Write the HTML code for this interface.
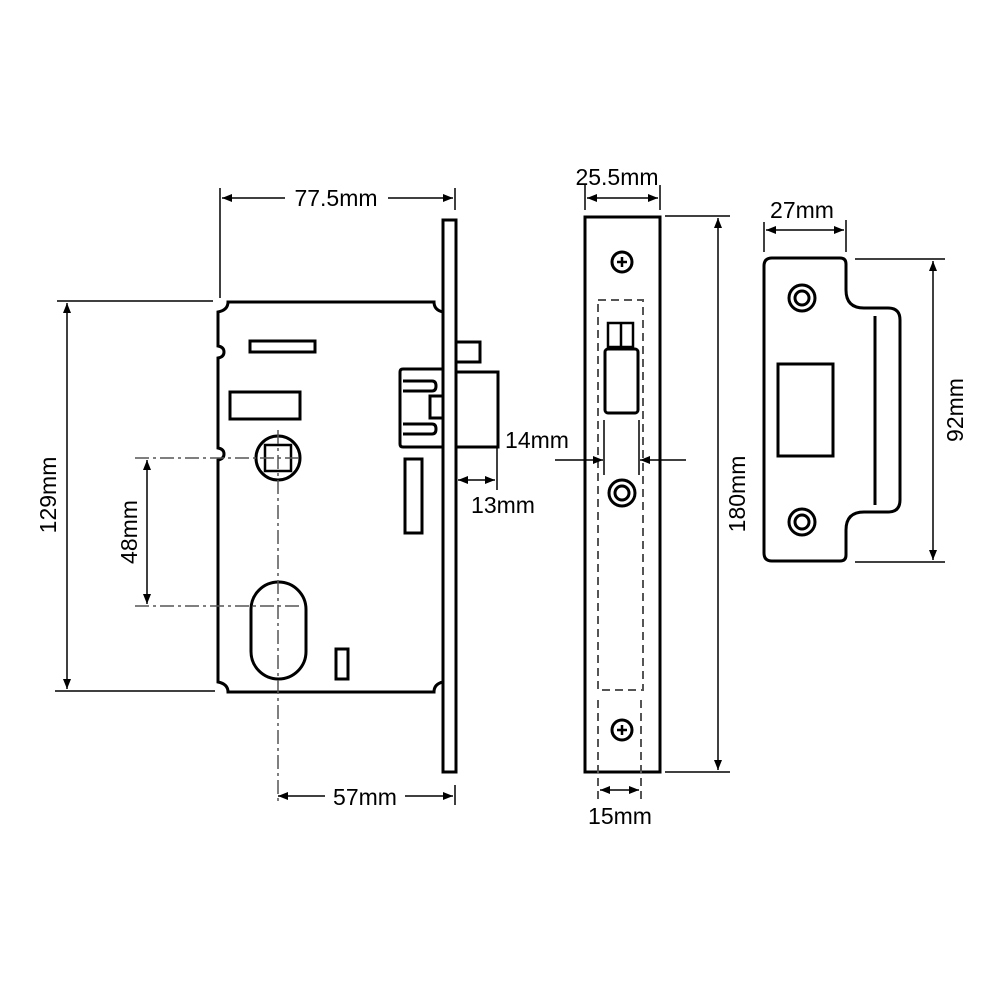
<!DOCTYPE html>
<html><head><style>
html,body{margin:0;padding:0;background:#fff;}
svg{display:block;}
text{font-family:"Liberation Sans",Arial,sans-serif;font-size:23px;fill:#000;}
</style></head><body>
<svg width="1000" height="1000" viewBox="0 0 1000 1000" xmlns="http://www.w3.org/2000/svg">
<defs>
<marker id="a" viewBox="0 0 10 10" refX="10" refY="5" markerWidth="12" markerHeight="10" orient="auto-start-reverse" markerUnits="userSpaceOnUse"><path d="M0,1 L10,5 L0,9Z" fill="#000"/></marker>
</defs>
<g fill="none" stroke="#000" stroke-width="3">
<path d="M228,302 H434 q0,8 9,10 V682 q-9,2 -9,10 H228 q0,-8 -10,-10 V460 q6,-1 6,-6 q0,-5 -6,-6 V358 q6,-1 6,-6 q0,-5 -6,-6 V312 q10,-2 10,-10Z"/>
<rect x="443" y="220" width="13" height="552"/>
<rect x="250" y="341" width="65" height="11"/>
<rect x="230" y="392" width="70" height="27"/>
<circle cx="278" cy="458" r="22"/>
<rect x="265" y="445" width="26" height="26" stroke-width="2.5"/>
<rect x="251" y="582" width="55" height="97" rx="27.5"/>
<rect x="336" y="649" width="12" height="30"/>
<rect x="405" y="459" width="17" height="74"/>
<path d="M443,369 H403 q-3,0 -3,3 V444 q0,3 3,3 H443"/>
<path d="M403,381 H432 q4,0 4,5 q0,5 -4,5 H403"/>
<path d="M403,424 H432 q4,0 4,5 q0,5 -4,5 H403"/>
<rect x="430" y="396" width="13" height="22"/>
<rect x="456" y="372" width="42" height="75"/>
<rect x="456" y="342" width="24" height="20"/>
<rect x="585" y="217" width="75" height="555"/>
<circle cx="622" cy="262" r="10"/>
<circle cx="622" cy="730" r="10"/>
<circle cx="622" cy="493" r="13"/>
<circle cx="622" cy="493" r="7"/>
<rect x="608" y="323" width="25" height="24" stroke-width="2.5"/>
<rect x="605" y="349" width="33" height="64" rx="3"/>
<path d="M772,258 H840 q6,0 6,6 V290 q0,18 18,18 H888 q12,0 12,12 V500 q0,12 -12,12 H864 q-18,0 -18,18 V555 q0,6 -6,6 H772 q-8,0 -8,-8 V266 q0,-8 8,-8Z"/>
<line x1="875" y1="316" x2="875" y2="505"/>
<rect x="778" y="364" width="55" height="92"/>
<circle cx="802" cy="298" r="13"/><circle cx="802" cy="298" r="7"/>
<circle cx="802" cy="522" r="13"/><circle cx="802" cy="522" r="7"/>
</g>
<g stroke="#000" stroke-width="2.5">
<line x1="617" y1="262" x2="627" y2="262"/><line x1="622" y1="257" x2="622" y2="267"/>
<line x1="617" y1="730" x2="627" y2="730"/><line x1="622" y1="725" x2="622" y2="735"/>
<line x1="621" y1="324" x2="621" y2="346"/>
</g>
<g fill="none" stroke="#555" stroke-width="1.5">
<line x1="278" y1="430" x2="278" y2="805" stroke-dasharray="14,4,3,4"/>
<line x1="135" y1="458" x2="300" y2="458" stroke-dasharray="14,4,3,4"/>
<line x1="135" y1="606" x2="300" y2="606" stroke-dasharray="14,4,3,4"/>
<rect x="598" y="300" width="45" height="390" stroke-dasharray="8,5" stroke-width="2"/>
<line x1="598" y1="700" x2="598" y2="800" stroke-dasharray="8,5" stroke-width="2"/>
<line x1="641" y1="700" x2="641" y2="800" stroke-dasharray="8,5" stroke-width="2"/>
</g>
<g stroke="#000" stroke-width="1.5" fill="none">
<line x1="220" y1="188" x2="220" y2="298"/>
<line x1="455" y1="188" x2="455" y2="210"/>
<line x1="222" y1="198" x2="285" y2="198" marker-start="url(#a)"/>
<line x1="388" y1="198" x2="453" y2="198" marker-end="url(#a)"/>
<line x1="57" y1="301" x2="213" y2="301"/>
<line x1="55" y1="691" x2="215" y2="691"/>
<line x1="67" y1="303" x2="67" y2="689" marker-start="url(#a)" marker-end="url(#a)"/>
<line x1="147" y1="460" x2="147" y2="604" marker-start="url(#a)" marker-end="url(#a)"/>
<line x1="278" y1="796" x2="325" y2="796" marker-start="url(#a)"/>
<line x1="405" y1="796" x2="453" y2="796" marker-end="url(#a)"/>
<line x1="455" y1="785" x2="455" y2="805"/>
<line x1="497" y1="448" x2="497" y2="490"/>
<line x1="458" y1="480" x2="495" y2="480" marker-start="url(#a)" marker-end="url(#a)"/>
<line x1="585" y1="185" x2="585" y2="210"/>
<line x1="660" y1="185" x2="660" y2="210"/>
<line x1="587" y1="198" x2="658" y2="198" marker-start="url(#a)" marker-end="url(#a)"/>
<line x1="665" y1="216" x2="730" y2="216"/>
<line x1="665" y1="772" x2="730" y2="772"/>
<line x1="718" y1="218" x2="718" y2="770" marker-start="url(#a)" marker-end="url(#a)"/>
<line x1="555" y1="460" x2="603" y2="460" marker-end="url(#a)"/>
<line x1="686" y1="460" x2="640" y2="460" marker-end="url(#a)"/>
<line x1="604" y1="420" x2="604" y2="475"/>
<line x1="639" y1="420" x2="639" y2="475"/>
<line x1="600" y1="790" x2="639" y2="790" marker-start="url(#a)" marker-end="url(#a)"/>
<line x1="764" y1="222" x2="764" y2="252"/>
<line x1="846" y1="220" x2="846" y2="252"/>
<line x1="766" y1="230" x2="844" y2="230" marker-start="url(#a)" marker-end="url(#a)"/>
<line x1="855" y1="259" x2="945" y2="259"/>
<line x1="855" y1="562" x2="945" y2="562"/>
<line x1="933" y1="261" x2="933" y2="560" marker-start="url(#a)" marker-end="url(#a)"/>
</g>
<text x="336" y="206" text-anchor="middle">77.5mm</text>
<text x="365" y="805" text-anchor="middle">57mm</text>
<text x="503" y="513" text-anchor="middle">13mm</text>
<text x="617" y="185" text-anchor="middle">25.5mm</text>
<text x="537" y="448" text-anchor="middle">14mm</text>
<text x="620" y="824" text-anchor="middle">15mm</text>
<text x="802" y="218" text-anchor="middle">27mm</text>
<text transform="translate(56,495) rotate(-90)" text-anchor="middle">129mm</text>
<text transform="translate(137,532) rotate(-90)" text-anchor="middle">48mm</text>
<text transform="translate(745,494) rotate(-90)" text-anchor="middle">180mm</text>
<text transform="translate(963,410) rotate(-90)" text-anchor="middle">92mm</text>
</svg>
</body></html>
